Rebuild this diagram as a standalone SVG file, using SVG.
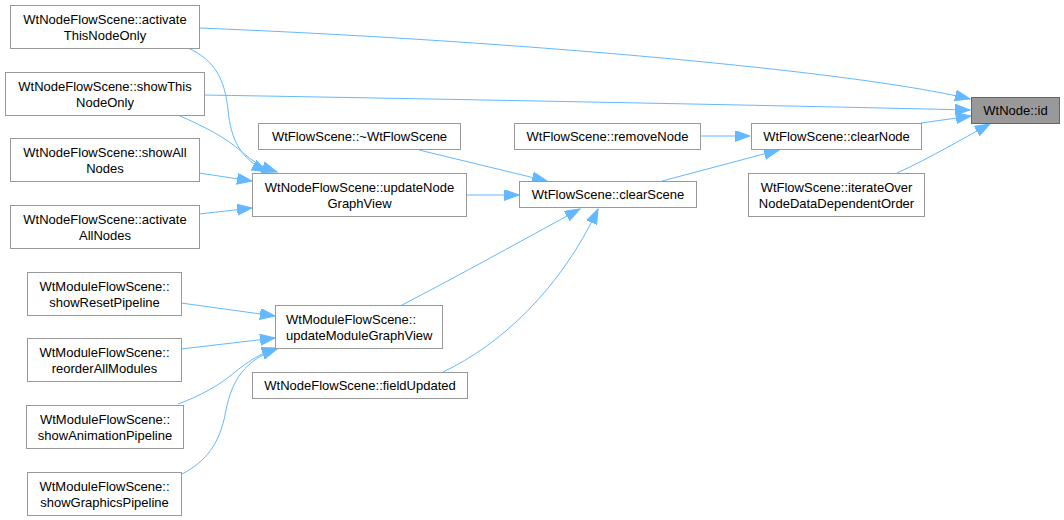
<svg xmlns="http://www.w3.org/2000/svg" width="1064" height="520" viewBox="0 0 1064 520">
<style>
.n rect{fill:#ffffff;stroke:#999999;stroke-width:1}
.n text{font-family:"Liberation Sans",Arial,sans-serif;font-size:13px;fill:#000000;text-anchor:middle}
.n text.l{text-anchor:start}
#n_id rect{fill:#999999;stroke:#666666}
.e path{fill:none;stroke:#63b8ff;stroke-width:1;marker-end:url(#arr)}
</style>
<defs>
<marker id="arr" markerUnits="userSpaceOnUse" markerWidth="17" markerHeight="13" refX="15" refY="5.5" orient="auto">
<path d="M0,0 L15,5.5 L0,11 Z" fill="#63b8ff" stroke="#63b8ff" stroke-width="1"/>
</marker>
</defs>
<rect x="0" y="0" width="1064" height="520" fill="#ffffff"/>
<g id="edges" class="e">
<path d="M199,28 C500,40 850,70 970,99"/>
<path d="M204,95 C500,100 800,106 970,110"/>
<path d="M921,123 L971,116"/>
<path d="M897,173 C930,158 960,140 990,124"/>
<path d="M700,136 L750,136"/>
<path d="M662,181 L779,150"/>
<path d="M419,150 L547,181"/>
<path d="M466,195 L519,195"/>
<path d="M402,305 C460,275 530,236 580,209"/>
<path d="M443,372 C500,345 560,290 598,209"/>
<path d="M199,173 L252,181"/>
<path d="M199,214 L252,208"/>
<path d="M188,48 C215,60 225,80 228,110 C231,140 240,158 267,172"/>
<path d="M178,115 C205,127 225,137 242,152 C252,161 262,167 277,172"/>
<path d="M181,303 L275,316"/>
<path d="M181,349 L275,338"/>
<path d="M178,404 C200,396 220,385 235,372 C250,360 262,353 277,348"/>
<path d="M182,474 C205,462 220,445 226,410 C232,380 245,360 277,349"/>
</g>
<g id="n_id" class="n"><rect x="971.5" y="97.5" width="88" height="26"/><text x="1015.5" y="115">WtNode::id</text></g>
<g id="n_clearNode" class="n"><rect x="751.5" y="123.5" width="170" height="26"/><text x="836.5" y="141">WtFlowScene::clearNode</text></g>
<g id="n_iterate" class="n"><rect x="748.5" y="173.5" width="176" height="43"/><text x="836.5" y="191.5">WtFlowScene::iterateOver</text><text x="836.5" y="207.5">NodeDataDependentOrder</text></g>
<g id="n_removeNode" class="n"><rect x="514.5" y="123.5" width="186" height="26"/><text x="607.5" y="141">WtFlowScene::removeNode</text></g>
<g id="n_clearScene" class="n"><rect x="519.5" y="181.5" width="177" height="26"/><text x="608" y="199">WtFlowScene::clearScene</text></g>
<g id="n_dtor" class="n"><rect x="258.5" y="123.5" width="202" height="26"/><text x="359.5" y="141">WtFlowScene::~WtFlowScene</text></g>
<g id="n_updateNode" class="n"><rect x="252.5" y="173.5" width="214" height="43"/><text x="359.5" y="191.5">WtNodeFlowScene::updateNode</text><text x="359.5" y="207.5">GraphView</text></g>
<g id="n_activateThis" class="n"><rect x="10.5" y="5.5" width="189" height="43"/><text x="105" y="23.5">WtNodeFlowScene::activate</text><text x="105" y="39.5">ThisNodeOnly</text></g>
<g id="n_showThis" class="n"><rect x="5.5" y="72.5" width="199" height="43"/><text x="105" y="90.5">WtNodeFlowScene::showThis</text><text x="105" y="106.5">NodeOnly</text></g>
<g id="n_showAll" class="n"><rect x="10.5" y="138.5" width="189" height="43"/><text x="105" y="156.5">WtNodeFlowScene::showAll</text><text x="105" y="172.5">Nodes</text></g>
<g id="n_activateAll" class="n"><rect x="10.5" y="205.5" width="189" height="43"/><text x="105" y="223.5">WtNodeFlowScene::activate</text><text x="105" y="239.5">AllNodes</text></g>
<g id="n_showReset" class="n"><rect x="27.5" y="272.5" width="154" height="43"/><text x="104.5" y="290.5">WtModuleFlowScene::</text><text x="104.5" y="306.5">showResetPipeline</text></g>
<g id="n_reorder" class="n"><rect x="27.5" y="338.5" width="154" height="43"/><text x="104.5" y="356.5">WtModuleFlowScene::</text><text x="104.5" y="372.5">reorderAllModules</text></g>
<g id="n_showAnim" class="n"><rect x="26.5" y="405.5" width="157" height="43"/><text x="105" y="423.5">WtModuleFlowScene::</text><text x="105" y="439.5">showAnimationPipeline</text></g>
<g id="n_showGraphics" class="n"><rect x="27.5" y="472.5" width="154" height="43"/><text x="104.5" y="490.5">WtModuleFlowScene::</text><text x="104.5" y="506.5">showGraphicsPipeline</text></g>
<g id="n_updateModule" class="n"><rect x="275.5" y="305.5" width="167" height="43"/><text class="l" x="286" y="323.5">WtModuleFlowScene::</text><text class="l" x="286" y="339.5">updateModuleGraphView</text></g>
<g id="n_fieldUpdated" class="n"><rect x="252.5" y="372.5" width="215" height="26"/><text x="360" y="390">WtNodeFlowScene::fieldUpdated</text></g>
</svg>
